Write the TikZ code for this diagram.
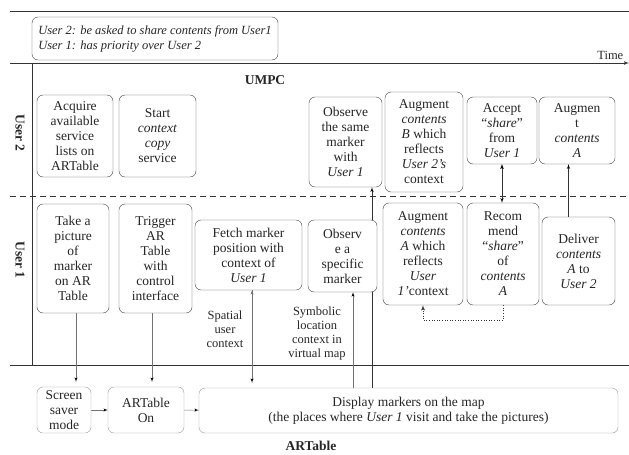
\documentclass[tikz,border=0pt]{standalone}
\usepackage{fontspec}
\setmainfont{Liberation Serif}
\usetikzlibrary{arrows,calc,backgrounds}

\begin{document}
\begin{tikzpicture}[x=1pt, y=-1pt, >=latex',
  block/.style = {draw=black!75, fill=white, rectangle, rounded corners=0.6em, align=center,
                  inner sep=1pt, text=black!85, font=\fontsize{13.5}{15}\selectfont},
 gblock/.style = {block, draw=black!40},
     wh/.style 2 args = {minimum width=#1pt, minimum height=#2pt},
   rule/.style = {draw=black!80, line width=0.8pt},
   conn/.style = {draw=black!80, line width=0.6pt},
  gconn/.style = {draw=black!55, line width=0.5pt},
    lbl/.style = {align=center, text=black!85, font=\fontsize{12.5}{14}\selectfont},
   lane/.style = {text=black!85, font=\fontsize{13.5}{15}\selectfont\bfseries},
                        ]
    \useasboundingbox (0,0) rectangle (629,455);

    % note and lane titles
    \node [block, wh={246}{43}, align=left, font=\fontsize{12.5}{15}\selectfont\itshape]
                                         (note)    at (155,38.5)
          {User 2: be asked to share contents from User1\\User 1: has priority over User 2};
    \node [lane]                         (umpc)    at (265,80)   {UMPC};
    \node [lane]                         (artab)   at (311,446)  {ARTable};
    \node [lane, rotate=-90]             (u2)      at (20,133)   {User 2};
    \node [lane, rotate=-90]             (u1)      at (20,260)   {User 1};

    % User 2
    \node [block, wh={76}{82}]           (acq)     at (75,136)
          {Acquire\\available\\service\\lists on\\ARTable};
    \node [block, wh={77}{82}]           (start)   at (157.5,136)
          {Start\\\textit{context}\\\textit{copy}\\service};
    \node [block, wh={73}{90}]           (obsame)  at (345.5,142)
          {Observe\\the same\\marker\\with\\\textit{User 1}};
    \node [block, wh={78}{100}]          (augB)    at (424,142)
          {Augment\\\textit{contents}\\\textit{B} which\\reflects\\\textit{User 2's}\\context};
    \node [block, wh={70}{67}]           (accept)  at (502,130.5)
          {Accept\\``\textit{share}''\\from\\\textit{User 1}};
    \node [block, wh={76}{67}]           (augAb)   at (577,130.5)
          {Augmen\\t\\\textit{contents}\\\textit{A}};

    % User 1
    \node [block, wh={72}{109}]          (take)    at (73,258.5)
          {Take a\\picture\\of\\marker\\on AR\\Table};
    \node [block, wh={73}{109}]          (trigger) at (155.5,258.5)
          {Trigger\\AR\\Table\\with\\control\\interface};
    \node [block, wh={107}{70}]          (fetch)   at (248.5,255)
          {Fetch marker\\position with\\context of\\\textit{User 1}};
    \node [block, wh={69}{72}]           (obspec)  at (342.5,256)
          {Observ\\e a\\specific\\marker};
    \node [block, wh={80}{102}]          (augAa)   at (423,254)
          {Augment\\\textit{contents}\\\textit{A} which\\reflects\\\textit{User}\\\textit{1'}context};
    \node [block, wh={72}{102}]          (recom)   at (503,254)
          {Recom\\mend\\``\textit{share}''\\of\\\textit{contents}\\\textit{A}};
    \node [block, wh={73}{88}]           (deliver) at (578.5,261)
          {Deliver\\\textit{contents}\\\textit{A} to\\\textit{User 2}};

    \node [lbl]                          (spat)    at (225,329)  {Spatial\\user\\context};
    \node [lbl]                          (symb)    at (317,333)  {Symbolic\\location\\context in\\virtual map};

    % ARTable
    \node [gblock, wh={54}{46}]          (screen)  at (64,410)   {Screen\\saver\\mode};
    \node [gblock, wh={76}{46}]          (on)      at (146,410)  {ARTable\\On};
    \node [gblock, wh={419}{45}]         (disp)    at (408.5,410.5)
          {Display markers on the map\\(the places where \textit{User 1} visit and take the pictures)};

    \coordinate (ob) at ($(obsame.south)+(26.5,0)$);
    \coordinate (sy) at ($(obspec.south)+(10.5,0)$);
    \coordinate (sp) at ($(fetch.south)+(3.5,0)$);
    \coordinate (tk) at ($(take.south)+(3,0)$);
    \coordinate (tr) at ($(trigger.south)+(-3.5,0)$);
    \coordinate (dl) at ($(deliver.north)+(-10,0)$);

    \begin{pgfonlayer}{background}
    % frame
    \draw [rule] (10,11) -- (629,11);
    \draw [rule, ->] (10,63) -- (629,63) node [lbl, above left, xshift=-2pt] (time) {Time};
    \draw [rule] (32,63) -- (32,365);
    \draw [rule, line width=0.6pt, dash pattern=on 6pt off 4pt] (10,196) -- (629,196);
    \draw [rule] (10,365) -- (629,365);

    \path [conn, ->] (ob |- disp.north)    edge (ob)
                     (dl)                  edge (dl |- augAb.south)
                     (accept.south)        edge [<->] (accept.south |- recom.north)
                     ;
    \draw [conn, ->, dotted, thick] (recom.south) -- ++(0,15) -| (augAa.south);
    \path [gconn, ->] (sy |- disp.north)   edge (sy)
                      (tk)                 edge [shorten >=5pt] (tk |- screen.north)
                      (tr)                 edge [shorten >=5pt] (tr |- on.north)
                      (sp)                 edge [shorten >=5pt] (sp |- disp.north)
                      (screen)             edge (on)
                      (on)                 edge (disp)
                      ;
    \end{pgfonlayer}
\end{tikzpicture}
\end{document}
